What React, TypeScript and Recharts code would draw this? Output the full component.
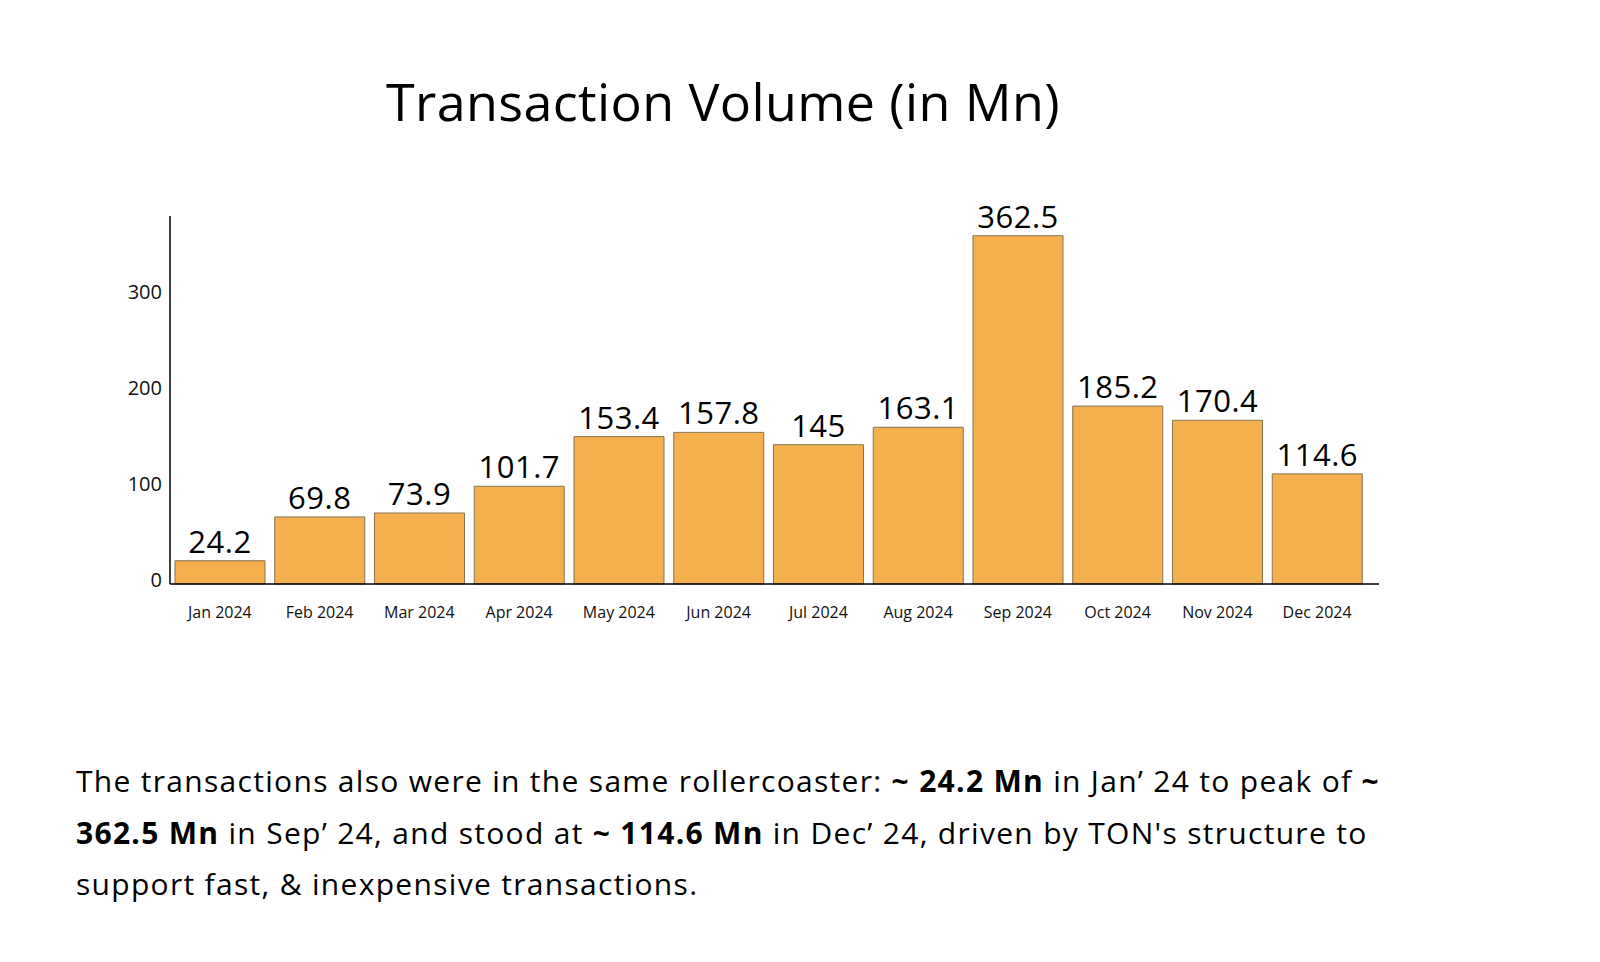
import React from "react";
import { BarChart, Bar, XAxis, YAxis, LabelList } from "recharts";

const MONTHS = [
  "Jan 2024",
  "Feb 2024",
  "Mar 2024",
  "Apr 2024",
  "May 2024",
  "Jun 2024",
  "Jul 2024",
  "Aug 2024",
  "Sep 2024",
  "Oct 2024",
  "Nov 2024",
  "Dec 2024",
];

const VOLUME = [24.2, 69.8, 73.9, 101.7, 153.4, 157.8, 145, 163.1, 362.5, 185.2, 170.4, 114.6];

const Y_TICKS = [0, 100, 200, 300];

const data = MONTHS.map((month, i) => ({ month, volume: VOLUME[i] }));

const FONT = "'Open Sans', 'Noto Sans', sans-serif";

export default function App() {
  return (
    <div
      style={{
        position: "absolute",
        top: 0,
        left: 0,
        width: 1600,
        height: 962,
        background: "#fff",
        fontFamily: FONT,
        color: "#000",
        overflow: "hidden",
      }}
    >
      <div
        style={{
          position: "absolute",
          top: 69,
          left: 0,
          width: 1446,
          textAlign: "center",
          fontSize: 52,
          letterSpacing: 0.4,
          lineHeight: "64px",
          fontWeight: 400,
        }}
      >
        Transaction Volume (in Mn)
      </div>

      <div style={{ position: "absolute", top: 0, left: 0 }}>
        <BarChart
          width={1600}
          height={700}
          data={data}
          margin={{ top: 216, right: 221, left: 110, bottom: 86 }}
          barCategoryGap="5%"
        >
          <XAxis
            dataKey="month"
            axisLine={{ stroke: "#000", strokeWidth: 1.5 }}
            tickLine={false}
            tickMargin={17}
            height={30}
            interval={0}
            padding={{ left: 0, right: 12 }}
            tick={{ fill: "#111", fontSize: 16, fontFamily: FONT }}
          />
          <YAxis
            width={60}
            domain={[0, 383]}
            ticks={Y_TICKS}
            axisLine={{ stroke: "#000", strokeWidth: 1.5 }}
            tickLine={false}
            tick={{ fill: "#111", fontSize: 20, fontFamily: FONT, dy: -4 }}
          />
          <Bar
            dataKey="volume"
            fill="#F4B04D"
            stroke="#857257"
            strokeWidth={1}
            isAnimationActive={false}
          >
            <LabelList
              dataKey="volume"
              position="top"
              offset={8}
              style={{ fill: "#000", fontSize: 31, fontWeight: 500, fontFamily: FONT, letterSpacing: 0.5 }}
            />
          </Bar>
        </BarChart>
      </div>

      <div
        style={{
          position: "absolute",
          top: 755,
          left: 76,
          width: 1340,
          fontSize: 30,
          letterSpacing: 1.3,
          lineHeight: "51.5px",
          fontWeight: 400,
          whiteSpace: "nowrap",
        }}
      >
        The transactions also were in the same rollercoaster: <b>~ 24.2 Mn</b> in Jan’ 24 to peak of <b>~</b>
        <br />
        <b>362.5 Mn</b> in Sep’ 24, and stood at <b>~ 114.6 Mn</b> in Dec’ 24, driven by TON's structure to
        <br />
        support fast, &amp; inexpensive transactions.
      </div>
    </div>
  );
}
